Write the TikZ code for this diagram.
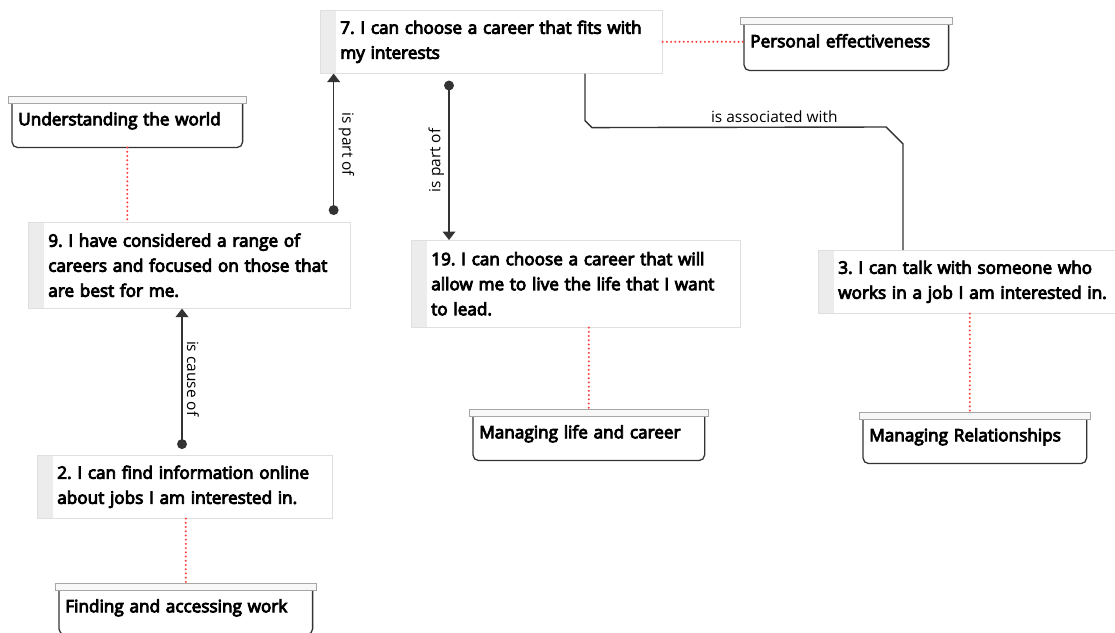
\documentclass[tikz,border=0pt]{standalone}
\usepackage{fontspec}
\setmainfont{Open Sans}
\newfontfamily\semifont{Open Sans}[FakeBold=5]
\usetikzlibrary{arrows.meta,calc}

\begin{document}
\frenchspacing
\begin{tikzpicture}[x=0.025cm,y=-0.025cm,
    stmt/.style={draw=gray!25, fill=white, anchor=north west, inner xsep=0.5cm, align=left,
      font=\semifont\fontsize{12.2}{17.8}\selectfont,
      path picture={\fill[gray!15] (path picture bounding box.north west) rectangle ([xshift=0.4cm]path picture bounding box.south west);}},
    cat/.style={anchor=north west, inner xsep=0.15cm, align=left, text height=0.3cm, text depth=0.3cm,
      font=\semifont\fontsize{12.2}{14}\selectfont},
    lid/.style={draw=gray!70, fill=gray!6, line width=0.7pt},
    body/.style={draw=black!80, line width=0.9pt, rounded corners=4pt},
    rel/.style={draw=gray!40!black, line width=1pt},
    link/.style={draw=red!75, line width=1.6pt, dash pattern=on 0pt off 3pt, line cap=round},
    lbl/.style={font=\fontsize{11}{13}\selectfont, inner sep=3pt}]
    \clip (0,0) rectangle (1115,632);
    \fill[white] (0,0) rectangle (1115,632);

    % statements
    \node[stmt, text width=7.55cm, minimum height=1.575cm] (n7) at (320,10) {7. I can choose a career that fits with\\my interests};
    \node[stmt, text width=7.05cm, minimum height=2.15cm] (n9) at (28,222) {9. I have considered a range of\\careers and focused on those that\\are best for me.};
    \node[stmt, text width=6.375cm, minimum height=1.575cm] (n2) at (37,455) {2. I can find information online\\about jobs I am interested in.};
    \node[stmt, text width=7.225cm, minimum height=2.175cm] (n19) at (411,240) {19. I can choose a career that will\\allow me to live the life that I want\\to lead.};
    \node[stmt, text width=7.2cm, minimum height=1.575cm] (n3) at (818,250) {3. I can talk with someone who\\works in a job I am interested in.};

    % categories
    \node[cat, text width=4.8cm, minimum height=1.15cm] (pe) at (744,24) {Personal effectiveness};
    \node[cat, text width=5.45cm, minimum height=1.1cm] (utw) at (12,103) {Understanding the world};
    \node[cat, text width=5.475cm, minimum height=1.1cm] (mlc) at (473,416) {Managing life and career};
    \node[cat, text width=5.275cm, minimum height=1.1cm] (mr) at (863,419) {Managing Relationships};
    \node[cat, text width=6.025cm, minimum height=1.1cm] (faw) at (59,590) {Finding and accessing work};
    \foreach \c in {pe,utw,mlc,mr,faw} {
        \draw[body] (\c.north west) -- (\c.south west) -- (\c.south east) -- (\c.north east);
        \draw[lid] ($(\c.north west)+(-4,-7)$) rectangle ($(\c.north east)+(4,0)$);
    }

    % dotted links
    \coordinate (c3) at ($(mr.north)+(-5,0)$);
    \draw[link] (n7.east) -- (n7.east -| pe.west);
    \draw[link] (utw.south) -- (utw.south |- n9.north);
    \draw[link] (mlc.north |- n19.south) -- ([yshift=0.175cm]mlc.north);
    \draw[link] (c3 |- n3.south) -- ([yshift=0.175cm]c3);
    \draw[link] (faw.north |- n2.south) -- ([yshift=0.175cm]faw.north);

    % relations
    \coordinate (a1) at ($(n9.north east)+(-17,-7)$);
    \coordinate (a2) at ($(n7.south west)+(129,7)$);
    \coordinate (a3) at ($(n2.north west)+(145,-6)$);
    \draw[rel, {Circle[length=7pt]}-{Triangle[length=6pt,width=9pt]}] (a1) -- (a1 |- n7.south)
        node[lbl, midway, rotate=-90, anchor=south] {is part of};
    \draw[rel, {Circle[length=7pt]}-{Triangle[length=6pt,width=9pt]}] (a2) -- (a2 |- n19.north)
        node[lbl, midway, rotate=90, anchor=south] {is part of};
    \draw[rel, {Circle[length=7pt]}-{Triangle[length=6pt,width=9pt]}] (a3) -- (a3 |- n9.south)
        node[lbl, midway, rotate=-90, anchor=south] {is cause of};

    \coordinate (b1) at ($(n7.south west)+(265,0)$);
    \coordinate (b2) at ($(n3.north west)+(85,0)$);
    \draw[rel] (b1) -- ++(0,47) -- ++(7,7) -- ($(b2)+(-17,-123)$)
        node[lbl, pos=0.62, anchor=south] {is associated with}
        -- ($(b2)+(0,-106)$) -- (b2);
\end{tikzpicture}
\end{document}
